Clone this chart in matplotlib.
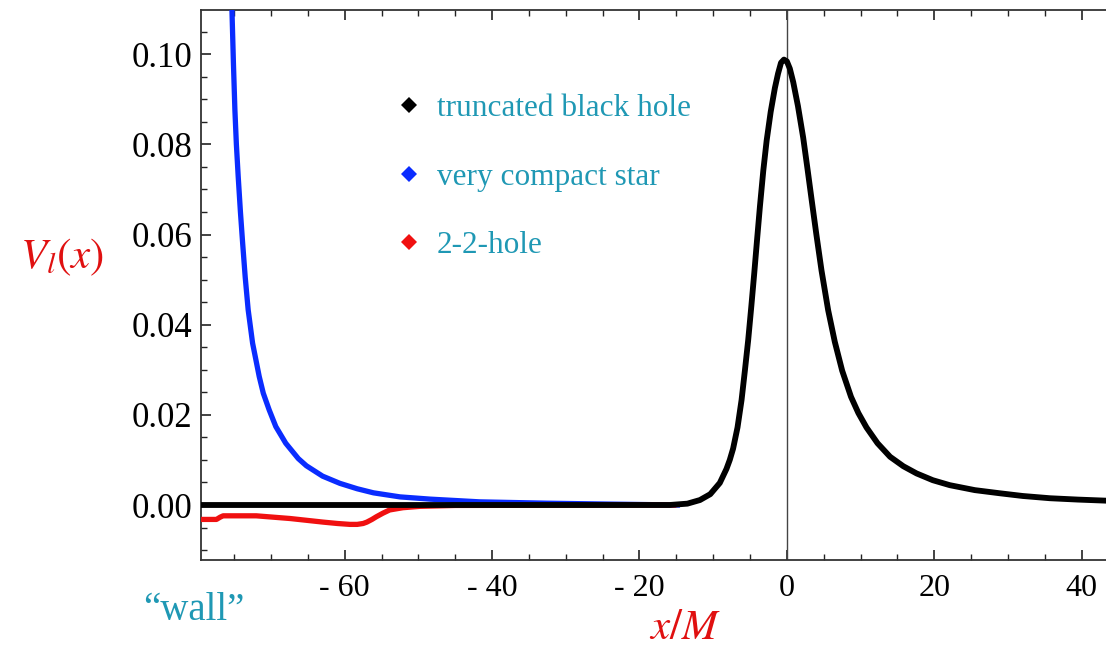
import matplotlib
matplotlib.use("Agg")
import matplotlib.pyplot as plt
from matplotlib.lines import Line2D
from matplotlib.ticker import MultipleLocator, FuncFormatter

# ---------------- data ----------------
bh_x = [-80, -15.9, -13.5, -11.8, -10.4, -9.1, -8.2, -7.75, -7.3, -6.7, -6.15,
        -5.7, -5.25, -4.83, -4.43, -4.05, -3.66, -3.2, -2.75, -2.2, -1.63,
        -1.2, -0.8, -0.4, 0.0, 0.4, 0.86, 1.5, 2.21, 2.8, 3.35, 4.0, 4.7, 5.6,
        6.5, 7.5, 8.7, 9.7, 10.8, 12.3, 14.0, 15.8, 17.6, 19.8, 22.1, 25.5,
        28.9, 32.0, 35.7, 39.5, 43.5]
bh_y = [0.0, 0.0, 0.0003, 0.0011, 0.0024, 0.0049, 0.0080, 0.0100, 0.0125,
        0.0172, 0.0233, 0.0298, 0.0366, 0.0440, 0.0514, 0.0588, 0.0662, 0.0742,
        0.0808, 0.0872, 0.0925, 0.0957, 0.0981, 0.0988, 0.0984, 0.0968, 0.0938,
        0.0885, 0.0815, 0.0745, 0.0678, 0.0600, 0.0520, 0.0432, 0.0362, 0.0298,
        0.0240, 0.0204, 0.0172, 0.0137, 0.0107, 0.0086, 0.0070, 0.0055, 0.0044,
        0.0033, 0.0026, 0.0020, 0.0015, 0.0012, 0.00095]

star_x = [-75.55, -75.3, -75.1, -74.9, -74.7, -74.45, -74.15, -73.85, -73.5,
          -73.1, -72.5, -71.6, -71.05, -70.25, -69.35, -68.0, -66.3, -65.2,
          -63.0, -60.65, -58.3, -56.1, -52.5, -48.4, -41.7, -32.6, -24.0, -14.5]
star_y = [0.125, 0.1098, 0.0980, 0.0876, 0.0800, 0.0728, 0.0650, 0.0581,
          0.0505, 0.0433, 0.0359, 0.0285, 0.0248, 0.0211, 0.0174, 0.0137,
          0.0103, 0.0087, 0.0064, 0.0048, 0.0036, 0.0027, 0.0018, 0.0013,
          0.0007, 0.0004, 0.0002, 0.0]

hole_x = [-80, -77.4, -76.9, -76.5, -72.0, -67.4, -62.9, -61.0, -59.3, -58.3,
          -57.5, -57.0, -56.3, -55.7, -54.8, -53.9, -52.1, -49.8, -45.0, -15.0]
hole_y = [-0.0032, -0.0032, -0.0027, -0.0024, -0.0024, -0.0030, -0.0038,
          -0.0041, -0.0043, -0.0043, -0.0041, -0.0038, -0.0032, -0.0026,
          -0.0018, -0.0011, -0.0006, -0.0003, -0.0001, 0.0]

series_labels = ["truncated black hole", "very compact star", "2-2-hole"]
series_colors = ["#000000", "#0a2cff", "#f01010"]

# ---------------- figure ----------------
plt.rcParams["mathtext.fontset"] = "stix"
fig = plt.figure(figsize=(11.06, 6.47), dpi=100)
W, H = 1106, 647
ax = fig.add_axes([201 / W, 87 / H, 905 / W, 550 / H])

ax.plot(star_x, star_y, color=series_colors[1], lw=3.8, solid_joinstyle="round",
        solid_capstyle="butt", zorder=3)
ax.plot(hole_x, hole_y, color=series_colors[2], lw=3.8, solid_joinstyle="round",
        solid_capstyle="butt", zorder=3)
ax.plot(bh_x, bh_y, color=series_colors[0], lw=4.2, solid_joinstyle="round", zorder=4)
ax.axvline(0, color="#444444", lw=1.0, zorder=2)

ax.set_xlim(-79.5, 43.3)
ax.set_ylim(-0.0122, 0.1098)

ax.spines["right"].set_visible(False)
for s in ("left", "bottom", "top"):
    ax.spines[s].set_color("#333333")
    ax.spines[s].set_linewidth(1.3)

ax.xaxis.set_major_locator(MultipleLocator(20))
ax.xaxis.set_minor_locator(MultipleLocator(5))
ax.yaxis.set_major_locator(MultipleLocator(0.02))
ax.yaxis.set_minor_locator(MultipleLocator(0.005))

def xfmt(v, pos):
    v = int(round(v))
    return f"- {abs(v)}" if v < 0 else f"{v}"

ax.xaxis.set_major_formatter(FuncFormatter(xfmt))
ax.yaxis.set_major_formatter(FuncFormatter(lambda v, p: f"{v:.2f}"))

ax.tick_params(which="both", direction="in", top=True, right=False, color="#222222")
ax.tick_params(which="major", length=7, width=1.2)
ax.tick_params(which="minor", length=4.5, width=1.0)
ax.tick_params(axis="x", which="major", pad=10, labelsize=23)
ax.tick_params(axis="y", which="major", pad=6, labelsize=25)
for lab in ax.get_xticklabels() + ax.get_yticklabels():
    lab.set_family("Liberation Serif")

teal = "#1f98b4"
fig.text(62 / W, 1 - 257 / H, r"$V_l(x)$", color="#e01010", fontsize=31,
         ha="center", va="center")
fig.text(685 / W, 1 - 627 / H, r"$x/M$", color="#e01010", fontsize=31,
         ha="center", va="center")
fig.text(194 / W, 1 - 610 / H, "\u201cwall\u201d", color=teal, fontsize=28,
         family="Liberation Serif", ha="center", va="center")

handles = [Line2D([], [], ls="none", marker="D", markersize=8.5, color=c,
                  markeredgewidth=0) for c in series_colors]
leg = ax.legend(handles, series_labels, loc="upper left",
                bbox_to_anchor=(393.4 / W, 1 - 94 / H),
                bbox_transform=fig.transFigure, frameon=False,
                borderpad=0, borderaxespad=0, handlelength=1.0,
                handletextpad=0.39, labelspacing=1.27,
                prop={"family": "Liberation Serif", "size": 22.5})
for t in leg.get_texts():
    t.set_color(teal)

fig.savefig("out.png", dpi=100)
